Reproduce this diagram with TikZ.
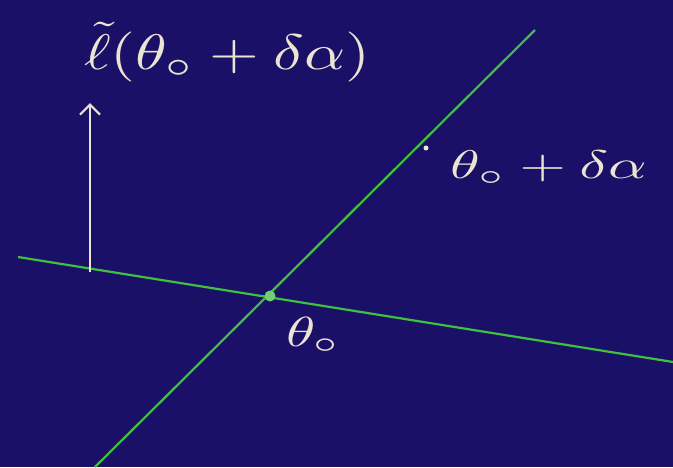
\documentclass[tikz,border=0pt]{standalone}
\usepackage{amsmath}
\usetikzlibrary{arrows.meta}
\definecolor{bg}{RGB}{27,16,104}
\definecolor{chalk}{RGB}{236,228,210}
\definecolor{lgreen}{RGB}{64,192,64}
\tikzset{
  gline/.style={draw=lgreen, line width=2.2pt},
  chalktext/.style={text=chalk, inner sep=0pt},
}
\begin{document}
\begin{tikzpicture}[x=1pt,y=-1pt]
\fill[bg] (0,0) rectangle (673,467);
\useasboundingbox (0,0) rectangle (673,467);
% lines
\coordinate (a1) at (18,257);
\coordinate (a2) at (673,362);
\coordinate (b1) at (95,467);
\coordinate (b2) at (535,30);
\draw[gline] (a1) -- (a2);
\draw[gline] (b1) -- (b2);
% points
\node[circle, fill=lgreen!75!white, minimum size=11pt, inner sep=0pt] (p0) at (270,296) {};
\node[circle, fill=chalk, minimum size=5pt, inner sep=0pt] (p1) at (426,148) {};
% arrow
\coordinate (ab) at (90,272);
\coordinate (at) at (90,103);
\draw[chalk, line width=2.2pt, -{Straight Barb[length=10pt,width=20pt,line width=2.2pt]}] (ab) -- (at);
% labels
\node[chalktext, anchor=west] (l1) at (84,52) {\scalebox{6.4}[5]{$\tilde{\ell}(\theta_{\circ}+\delta\alpha)$}};
\node[chalktext, anchor=west] (l2) at (450,168) {\scalebox{6}[4]{$\theta_{\circ}+\delta\alpha$}};
\node[chalktext, anchor=west] (l3) at (286,335) {\scalebox{5.9}[4.2]{$\theta_{\circ}$}};
\end{tikzpicture}
\end{document}
